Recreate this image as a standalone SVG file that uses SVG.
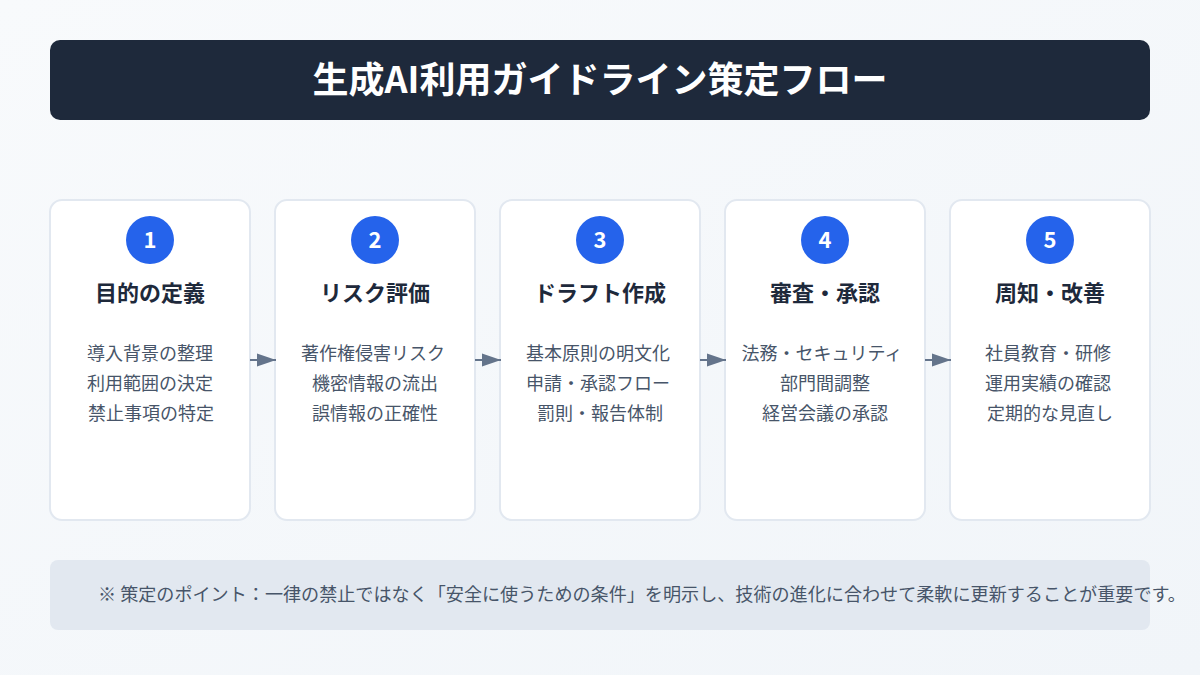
<svg xmlns="http://www.w3.org/2000/svg" width="1200" height="675" viewBox="0 0 1200 675">
<defs>
<linearGradient id="bg" x1="0" y1="0" x2="1" y2="1">
<stop offset="0" stop-color="#f8fafc"/>
<stop offset="1" stop-color="#f1f5f9"/>
</linearGradient>
<marker id="arr" markerWidth="20" markerHeight="14" refX="19" refY="7" orient="auto" markerUnits="userSpaceOnUse">
<path d="M0,0.5 L19,7 L0,13.5 Z" fill="#64748b"/>
</marker>
<style>
text{font-family:"Noto Sans CJK JP","Noto Sans",sans-serif;}
.card{fill:#ffffff;stroke:#e2e8f0;stroke-width:2;}
.num{fill:#2563eb;}
.numt{fill:#ffffff;font-size:22px;font-weight:700;text-anchor:middle;}
.ttl{fill:#1e293b;font-size:22px;font-weight:700;text-anchor:middle;}
.body{fill:#475569;font-size:18px;text-anchor:middle;}
.conn{stroke:#64748b;stroke-width:2;fill:none;}
</style>
</defs>
<rect width="1200" height="675" fill="url(#bg)"/>
<g id="header">
<rect x="50" y="40" width="1100" height="80" rx="10" fill="#1e293b"/>
<text x="600" y="93" fill="#ffffff" font-size="36" font-weight="700" text-anchor="middle">生成AI利用ガイドライン策定フロー</text>
</g>
<g id="step1">
<rect class="card" x="50" y="200" width="200" height="320" rx="12"/>
<circle class="num" cx="150" cy="240" r="24"/>
<text class="numt" x="150" y="248">1</text>
<text class="ttl" x="150" y="301">目的の定義</text>
<text class="body" x="150" y="360">導入背景の整理</text>
<text class="body" x="150" y="390">利用範囲の決定</text>
<text class="body" x="151" y="420">禁止事項の特定</text>
</g>
<g id="step2">
<rect class="card" x="275" y="200" width="200" height="320" rx="12"/>
<circle class="num" cx="375" cy="240" r="24"/>
<text class="numt" x="375" y="248">2</text>
<text class="ttl" x="375" y="301">リスク評価</text>
<text class="body" x="373" y="360">著作権侵害リスク</text>
<text class="body" x="375" y="390">機密情報の流出</text>
<text class="body" x="375" y="420">誤情報の正確性</text>
</g>
<g id="step3">
<rect class="card" x="500" y="200" width="200" height="320" rx="12"/>
<circle class="num" cx="600" cy="240" r="24"/>
<text class="numt" x="600" y="248">3</text>
<text class="ttl" x="600" y="301">ドラフト作成</text>
<text class="body" x="598" y="360">基本原則の明文化</text>
<text class="body" x="598" y="390">申請・承認フロー</text>
<text class="body" x="600" y="420">罰則・報告体制</text>
</g>
<g id="step4">
<rect class="card" x="725" y="200" width="200" height="320" rx="12"/>
<circle class="num" cx="825" cy="240" r="24"/>
<text class="numt" x="825" y="248">4</text>
<text class="ttl" x="825" y="301">審査・承認</text>
<text class="body" x="822" y="360">法務・セキュリティ</text>
<text class="body" x="825" y="390">部門間調整</text>
<text class="body" x="825" y="420">経営会議の承認</text>
</g>
<g id="step5">
<rect class="card" x="950" y="200" width="200" height="320" rx="12"/>
<circle class="num" cx="1050" cy="240" r="24"/>
<text class="numt" x="1050" y="248">5</text>
<text class="ttl" x="1050" y="301">周知・改善</text>
<text class="body" x="1048" y="360">社員教育・研修</text>
<text class="body" x="1048" y="390">運用実績の確認</text>
<text class="body" x="1050" y="420">定期的な見直し</text>
</g>
<g id="connectors">
<line class="conn" x1="250" y1="360" x2="276" y2="360" marker-end="url(#arr)"/>
<line class="conn" x1="475" y1="360" x2="501" y2="360" marker-end="url(#arr)"/>
<line class="conn" x1="700" y1="360" x2="726" y2="360" marker-end="url(#arr)"/>
<line class="conn" x1="925" y1="360" x2="951" y2="360" marker-end="url(#arr)"/>
</g>
<g id="note">
<rect x="50" y="560" width="1100" height="70" rx="8" fill="#e2e8f0"/>
<text x="98" y="601" fill="#475569" font-size="18.1">※ 策定のポイント：一律の禁止ではなく「安全に使うための条件」を明示し、技術の進化に合わせて柔軟に更新することが重要です。</text>
</g>
</svg>
